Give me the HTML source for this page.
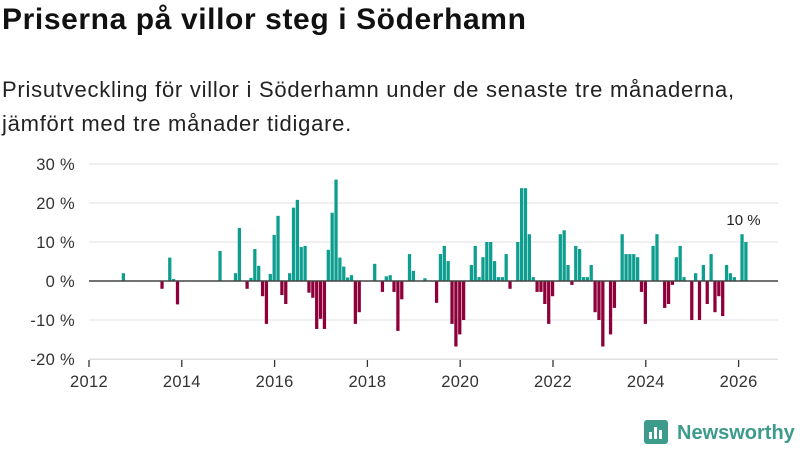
<!DOCTYPE html>
<html><head><meta charset="utf-8"><style>
body{margin:0;width:800px;height:450px;background:#fff;font-family:"Liberation Sans",sans-serif;overflow:hidden;position:relative}
#title{position:absolute;left:2px;top:3px;font-size:30px;font-weight:bold;color:#111;margin:0;letter-spacing:0.6px}
#sub{position:absolute;left:2px;top:73px;font-size:22px;line-height:34px;color:#222;width:798px;letter-spacing:0.75px;white-space:nowrap}
svg{position:absolute;left:0;top:0}
</style></head><body>
<h1 id="title">Priserna på villor steg i Söderhamn</h1>
<div id="sub">Prisutveckling för villor i Söderhamn under de senaste tre månaderna,<br>jämfört med tre månader tidigare.</div>
<svg id="chart" width="800" height="450"></svg>
<div style="position:absolute;left:644px;top:420px;display:flex;align-items:center">
<svg width="26" height="26" style="position:static"><rect x="0" y="0" width="24" height="24" rx="3" fill="#3d9b8c"/><rect x="5" y="12" width="3" height="7" fill="#fff"/><rect x="10" y="7" width="3" height="12" fill="#fff"/><rect x="15" y="10" width="3" height="9" fill="#fff"/></svg>
<span style="font-size:20px;font-weight:bold;color:#3d9b8c;margin-left:7px">Newsworthy</span></div>
<script>
const monthIdx=[8,18,20,21,22,33,37,38,40,41,42,43,44,45,46,47,48,49,50,51,52,53,54,55,56,57,58,59,60,61,62,63,64,65,66,67,68,69,73,75,76,77,78,79,80,82,83,86,89,90,91,92,93,94,95,96,98,99,100,101,102,103,104,105,106,107,108,110,111,112,113,114,115,116,117,118,119,121,122,123,124,125,126,127,128,129,130,131,132,134,135,137,138,139,140,141,142,143,145,146,148,149,150,151,152,153,155,156,157,158,159,160,161,162,163,164,165,166,168,169];
const values=[2,-2,6,0.5,-6,7.7,2,13.6,-2,0.8,8.2,3.9,-3.9,-11,1.8,11.8,16.7,-3.6,-5.9,2,18.8,20.8,8.7,9,-3,-4.3,-12.3,-9.7,-12.3,8,17.5,26,6,3.7,0.9,1.5,-11,-8,4.4,-2.8,1.2,1.5,-2.8,-12.8,-4.7,6.9,2.6,0.7,-5.6,6.9,9,5.1,-11,-16.8,-13.7,-10,4.1,9,1,6.1,10,10,5.1,1,1,6.9,-2,10,23.8,23.8,12,1,-2.8,-2.8,-5.9,-11,-3.9,12,13,4.1,-1,9,8.2,1,1,4.1,-8,-10,-16.8,-13.7,-6.9,12,6.9,6.9,6.9,6.1,-2.8,-11,9,12,-6.9,-5.9,-1,6.1,9,1,-10,2,-10,4.1,-5.9,6.9,-8,-3.9,-9,4.1,2,1,12,10];
const yTicks=[30,20,10,0,-10,-20];
const xTicks=[2012,2014,2016,2018,2020,2022,2024,2026];
const svg=document.getElementById('chart');const NS='http://www.w3.org/2000/svg';
const x0=89,pxYear=46.4,pxMonth=pxYear/12,xEnd=778;
function xs(yearFrac){return x0+(yearFrac-2012)*pxYear;}
function ys(v){return 281-v*3.9;}
function mk(t,a,p){const e=document.createElementNS(NS,t);for(const k in a)e.setAttribute(k,a[k]);(p||svg).appendChild(e);return e;}
yTicks.forEach(v=>{
 const g=mk('line',{x1:x0,x2:xEnd,y1:ys(v),y2:ys(v),stroke:'#e0e0e0','stroke-width':1});
 
 
 const t=mk('text',{x:75,y:ys(v)+6,'text-anchor':'end','font-size':16.5,fill:'#333','font-family':'Liberation Sans','letter-spacing':0.3});
 t.textContent=v+' %';
 
 
});
mk('line',{x1:x0,x2:xEnd,y1:359.5,y2:359.5,stroke:'#e0e0e0'});
xTicks.forEach(yr=>{
 const l=mk('line',{x1:xs(yr),x2:xs(yr),y1:360,y2:367,stroke:'#333','stroke-width':1.3});
 
 
 const t=mk('text',{x:xs(yr),y:387,'text-anchor':'middle','font-size':16.5,fill:'#333','font-family':'Liberation Sans','letter-spacing':0.3});
 t.textContent=yr;
 
 
});
monthIdx.forEach((m,i)=>{
 const v=values[i];const bx=xs(2012+m/12)+1.8;
 const r=mk('rect',{x:bx,width:pxMonth-0.6,y:Math.min(ys(v),ys(0)),height:Math.abs(ys(v)-ys(0)),fill:v>=0?'#0e9e8f':'#8e0039'});
 
 
});
mk('line',{x1:x0,x2:xEnd,y1:281,y2:281,stroke:'#444','stroke-width':1.5});
const li=monthIdx.length-1;
const lab=mk('text',{x:xs(2012+monthIdx[li]/12)+1,y:ys(values[li])-17,'text-anchor':'middle','font-size':15,fill:'#222','font-family':'Liberation Sans'});
lab.textContent=Math.round(values[li])+' %';


</script>
</body></html>
